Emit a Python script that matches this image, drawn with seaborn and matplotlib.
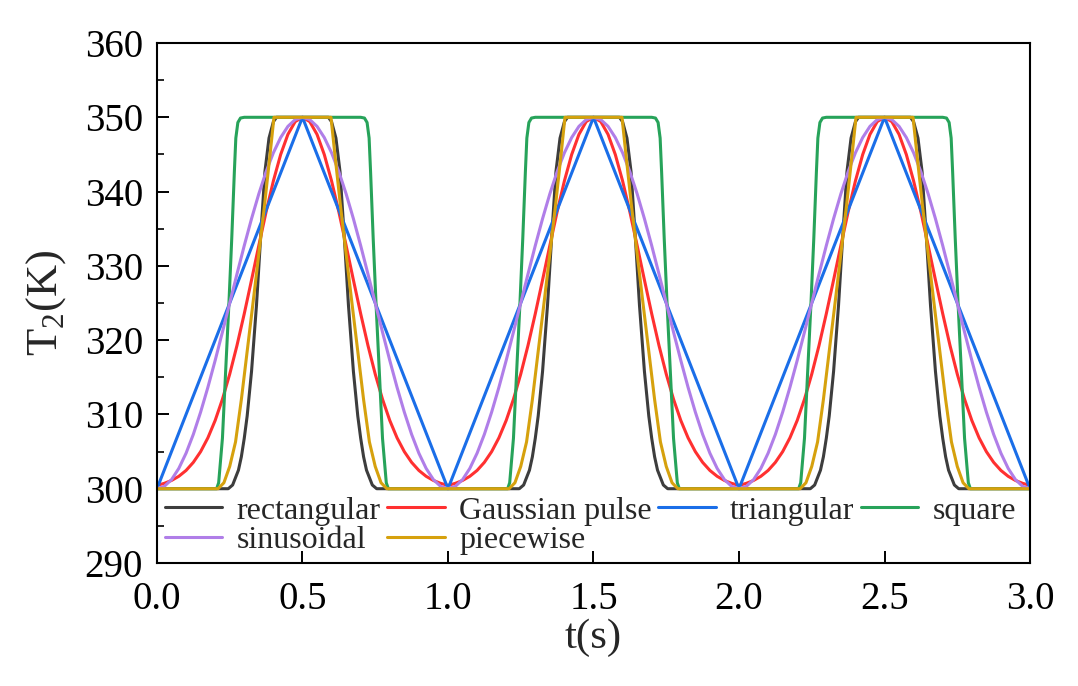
import numpy as np
import pandas as pd
import matplotlib
matplotlib.use("Agg")
import matplotlib.pyplot as plt
import seaborn as sns
from matplotlib.ticker import MultipleLocator

# ---------------- data (one period) ----------------
PERIOD_STARTS = [0.0, 1.0, 2.0]

GRID_025 = [round(0.025 * i, 3) for i in range(41)]

rect_t = [0.0, 0.22, 0.245, 0.26, 0.28, 0.29, 0.30, 0.31, 0.325, 0.342, 0.356, 0.371,
          0.385, 0.40, 0.411, 0.589, 0.60, 0.615, 0.629, 0.644, 0.658, 0.675, 0.69,
          0.70, 0.71, 0.72, 0.74, 0.755, 0.78, 1.0]
rect_v = [300, 300, 300, 300.5, 302.5, 304.3, 306.8, 309.8, 315.8, 324.7, 333.7, 342.7,
          347.2, 349.4, 350, 350, 349.4, 347.2, 342.7, 333.7, 324.7, 315.8, 309.8,
          306.8, 304.3, 302.5, 300.5, 300, 300, 300]

gauss_t = GRID_025
gauss_v = [300.45, 300.72, 301.11, 301.67, 302.46, 303.55, 304.99, 306.85, 309.19, 312.05,
           315.43, 319.29, 323.56, 328.10, 332.74, 337.27, 341.43, 344.98, 347.70, 349.42,
           350.0, 349.42, 347.70, 344.98, 341.43, 337.27, 332.74, 328.10, 323.56, 319.29,
           315.43, 312.05, 309.19, 306.85, 304.99, 303.55, 302.46, 301.67, 301.11, 300.72,
           300.45]

tri_t = [0.0, 0.5, 1.0]
tri_v = [300, 350, 300]

square_t = [0.0, 0.205, 0.212, 0.225, 0.236, 0.247, 0.257, 0.266, 0.271, 0.278, 0.287,
            0.30, 0.70, 0.713, 0.722, 0.729, 0.734, 0.743, 0.753, 0.764, 0.775, 0.788,
            0.795, 1.0]
square_v = [300, 300, 300.8, 306.8, 315.8, 324.7, 333.7, 342.7, 347.2, 349.3, 349.9,
            350, 350, 349.9, 349.3, 347.2, 342.7, 333.7, 324.7, 315.8, 306.8, 300.8,
            300, 300]

sin_t = GRID_025
sin_v = [300.0, 300.31, 301.22, 302.73, 304.78, 307.32, 310.31, 313.65, 317.27, 321.09,
         325.0, 328.91, 332.73, 336.35, 339.69, 342.68, 345.22, 347.27, 348.78, 349.69,
         350.0, 349.69, 348.78, 347.27, 345.22, 342.68, 339.69, 336.35, 332.73, 328.91,
         325.0, 321.09, 317.27, 313.65, 310.31, 307.32, 304.78, 302.73, 301.22, 300.31,
         300.0]

piece_t = [0.0, 0.21, 0.23, 0.25, 0.27, 0.29, 0.31, 0.33, 0.35, 0.37, 0.39, 0.402,
           0.598, 0.61, 0.63, 0.65, 0.67, 0.69, 0.71, 0.73, 0.75, 0.77, 0.79, 1.0]
piece_v = [300, 300, 300.8, 303, 306.3, 312, 318.5, 325, 331.6, 338.3, 345.5, 350,
           350, 345.5, 338.3, 331.6, 325, 318.5, 312, 306.3, 303, 300.8, 300, 300]

SERIES = [
    ("rectangular", rect_t, rect_v, "#3d3d3d"),
    ("Gaussian pulse", gauss_t, gauss_v, "#ff3030"),
    ("triangular", tri_t, tri_v, "#1a6ee8"),
    ("square", square_t, square_v, "#27a35a"),
    ("sinusoidal", sin_t, sin_v, "#b07ee8"),
    ("piecewise", piece_t, piece_v, "#d6a10d"),
]

X_TICKS = [0.0, 0.5, 1.0, 1.5, 2.0, 2.5, 3.0]
Y_TICKS = [290, 300, 310, 320, 330, 340, 350, 360]

# ---------------- build long table ----------------
rows = []
for name, ts, vs, _ in SERIES:
    for k, start in enumerate(PERIOD_STARTS):
        n = len(ts) if k == len(PERIOD_STARTS) - 1 else len(ts) - 1
        for i in range(n):
            rows.append((name, ts[i] + start, vs[i]))
df = pd.DataFrame(rows, columns=["series", "t", "T"])

# ---------------- plot ----------------
sns.set_theme(style="ticks")
plt.rcParams["font.family"] = ["Liberation Serif", "DejaVu Serif"]
plt.rcParams["mathtext.fontset"] = "custom"
plt.rcParams["mathtext.rm"] = "Liberation Serif"

fig = plt.figure(figsize=(10.78, 6.86), dpi=100)
ax = fig.add_axes([0.1456, 0.1793, 0.8099, 0.758])

handles = {}
for name, _, _, color in SERIES:
    sub = df[df["series"] == name]
    sns.lineplot(data=sub, x="t", y="T", color=color, linewidth=2.2,
                 estimator=None, sort=False, ax=ax, label=name, legend=False)
    handles[name] = ax.get_lines()[-1]

ax.set_xlim(0, 3.0)
ax.set_ylim(290, 360)
ax.set_xticks(X_TICKS)
ax.set_xticklabels([f"{v:.1f}" for v in X_TICKS])
ax.set_yticks(Y_TICKS)
ax.yaxis.set_minor_locator(MultipleLocator(5))

ax.tick_params(axis="both", which="major", direction="in", length=8.5, width=1.4,
               labelsize=28, colors="black", top=False, right=False)
ax.tick_params(axis="y", which="major", pad=10)
ax.tick_params(axis="x", which="major", pad=13)
ax.tick_params(axis="y", which="minor", direction="in", length=5, width=1.4)
for sp in ax.spines.values():
    sp.set_visible(True)
    sp.set_linewidth(1.5)
    sp.set_color("black")

ax.set_xlabel("t(s)", fontsize=31, labelpad=0)
ax.set_ylabel(r"T$_\mathregular{2}$(K)", fontsize=32, labelpad=12)

order = ["rectangular", "sinusoidal", "Gaussian pulse", "piecewise", "triangular", "square"]
leg = ax.legend([handles[n] for n in order], order, ncol=4, loc="lower left",
                bbox_to_anchor=(0.0, 0.0), frameon=False, fontsize=23,
                handlelength=1.8, handletextpad=0.45, columnspacing=0.2,
                labelspacing=0.0, borderaxespad=0.05, borderpad=0.2)

fig.savefig("out.png", dpi=100, facecolor="white")
